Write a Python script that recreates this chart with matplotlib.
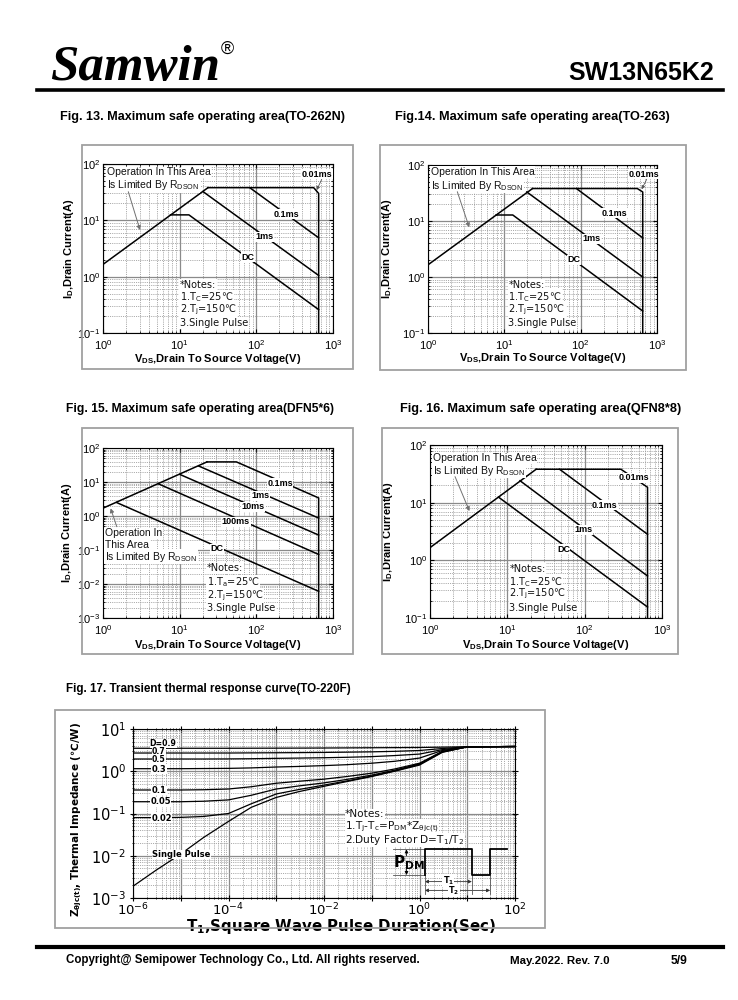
import numpy as np
import matplotlib
matplotlib.use('Agg')
import matplotlib.pyplot as plt
from matplotlib.patches import Rectangle
from matplotlib.lines import Line2D
from matplotlib.ticker import LogLocator, FixedLocator, FuncFormatter, NullFormatter
from matplotlib import font_manager as fm

# ======================= DATA =======================
soa_xlim = [1.0, 1000.0]
soa_xticks = [1.0, 10.0, 100.0, 1000.0]

# Fig 13 (TO-262N)
f13_rds_v = [1.0, 23.4]
f13_rds_i = [1.65, 38.0]
f13_p001_v = [23.4, 560.0, 650.0, 650.0]
f13_p001_i = [38.0, 38.0, 30.0, 0.1]
f13_p01_v = [82.0, 650.0]
f13_p01_i = [38.0, 4.9]
f13_p1_v = [20.2, 650.0]
f13_p1_i = [32.3, 1.05]
f13_dc_v = [7.6, 13.2, 650.0]
f13_dc_i = [12.5, 12.5, 0.26]

# Fig 14 (TO-263)
f14_rds_v = [1.0, 23.4]
f14_rds_i = [1.65, 38.0]
f14_p001_v = [23.4, 552.0, 650.0, 650.0]
f14_p001_i = [38.0, 38.0, 33.0, 0.1]
f14_p01_v = [88.0, 650.0]
f14_p01_i = [38.0, 5.0]
f14_p1_v = [19.7, 650.0]
f14_p1_i = [33.0, 1.0]
f14_dc_v = [7.8, 12.9, 650.0]
f14_dc_i = [12.8, 12.8, 0.247]

# Fig 15 (DFN5*6)
f15_rds_v = [1.0, 22.7]
f15_rds_i = [1.7, 39.0]
f15_p01_v = [22.7, 55.0, 650.0, 650.0]
f15_p01_i = [39.0, 39.0, 3.4, 0.001]
f15_p1_v = [17.7, 650.0]
f15_p1_i = [29.5, 0.87]
f15_p10_v = [10.0, 650.0]
f15_p10_i = [16.8, 0.275]
f15_p100_v = [5.3, 650.0]
f15_p100_i = [8.8, 0.074]
f15_dc_v = [1.5, 650.0]
f15_dc_i = [2.5, 0.0061]

# Fig 16 (QFN8*8)
f16_rds_v = [1.0, 23.6]
f16_rds_i = [1.66, 38.0]
f16_p001_v = [23.6, 294.0, 650.0, 650.0]
f16_p001_i = [38.0, 38.0, 18.5, 0.1]
f16_p01_v = [47.3, 650.0]
f16_p01_i = [38.0, 2.83]
f16_p1_v = [14.6, 650.0]
f16_p1_i = [24.0, 0.535]
f16_dc_v = [7.67, 650.0]
f16_dc_i = [12.5, 0.155]

# Fig 17 transient thermal impedance
zt_t = [1e-6, 3e-6, 1e-5, 3e-5, 1e-4, 3e-4, 1e-3, 3e-3, 1e-2, 3e-2, 1e-1, 3e-1, 1.0, 3.0, 10.0, 100.0]
z_d09 = [3.5, 3.5, 3.5, 3.5, 3.5, 3.51, 3.52, 3.53, 3.55, 3.57, 3.6, 3.62, 3.65, 3.72, 3.8, 3.85]
z_d07 = [2.7, 2.7, 2.7, 2.7, 2.7, 2.72, 2.74, 2.76, 2.79, 2.83, 2.88, 2.96, 3.1, 3.45, 3.78, 3.85]
z_d05 = [1.95, 1.95, 1.95, 1.95, 1.96, 1.98, 2.02, 2.05, 2.09, 2.14, 2.22, 2.35, 2.55, 3.25, 3.78, 3.85]
z_d03 = [1.15, 1.15, 1.15, 1.16, 1.17, 1.2, 1.26, 1.3, 1.36, 1.43, 1.55, 1.72, 2.05, 3.1, 3.78, 3.85]
z_d01 = [0.36, 0.36, 0.36, 0.365, 0.38, 0.43, 0.52, 0.58, 0.65, 0.75, 0.9, 1.13, 1.55, 2.95, 3.78, 3.85]
z_d005 = [0.19, 0.19, 0.19, 0.195, 0.21, 0.27, 0.38, 0.45, 0.53, 0.64, 0.81, 1.06, 1.5, 2.9, 3.78, 3.85]
z_d002 = [0.08, 0.08, 0.081, 0.085, 0.1, 0.17, 0.29, 0.37, 0.47, 0.59, 0.77, 1.02, 1.45, 2.85, 3.78, 3.85]
z_single = [0.0019, 0.0045, 0.011, 0.027, 0.065, 0.14, 0.24, 0.33, 0.44, 0.57, 0.75, 1.0, 1.4, 2.8, 3.78, 3.85]
z_labels = ['D=0.9', '0.7', '0.5', '0.3', '0.1', '0.05', '0.02', 'Single Pulse']

# ======================= LAYOUT =======================
W, H = 738, 1000
fig = plt.figure(figsize=(7.38, 10), dpi=100)
fig.patch.set_facecolor('white')
renderer = fig.canvas.get_renderer()

avail = {f.name for f in fm.fontManager.ttflist}
SANS = 'Liberation Sans'
NARROW = 'Liberation Sans Narrow' if 'Liberation Sans Narrow' in avail else 'Liberation Sans'
SERIF = 'Liberation Serif'
DJV = 'DejaVu Sans'
plt.rcParams['font.family'] = SANS


def fx(x):
    return x / W


def fy(y):
    return 1 - y / H


def rect(x0, y0, x1, y1):
    return [x0 / W, 1 - y1 / H, (x1 - x0) / W, (y1 - y0) / H]


def fit(t, size_px, vertical=False):
    bb = t.get_window_extent(renderer)
    cur = bb.height if vertical else bb.width
    t.set_fontsize(t.get_fontsize() * size_px / cur)


def frame(x0, y0, x1, y1):
    fig.add_artist(Rectangle((fx(x0), fy(y1)), (x1 - x0) / W, (y1 - y0) / H,
                             transform=fig.transFigure, fill=False,
                             ec='#a0a0a0', lw=1.3))


# ---- header ----
t = fig.text(fx(50), fy(80), 'Samwin', family=SERIF, weight='bold', style='italic',
             fontsize=38, va='baseline', ha='left')
fit(t, 170)
fig.text(fx(221), fy(54), '®', family=SANS, fontsize=13, va='baseline', ha='left')
t = fig.text(fx(714), fy(80), 'SW13N65K2', family=SANS, weight='bold', fontsize=16,
             va='baseline', ha='right')
fit(t, 146)
fig.add_artist(Line2D([fx(37), fx(723)], [fy(90), fy(90)], lw=2.6, color='black',
                      transform=fig.transFigure))

# ---- titles ----
titles = [
    ('Fig. 13. Maximum safe operating area(TO-262N)', 60, 117, 285),
    ('Fig.14. Maximum safe operating area(TO-263)', 395, 117, 275),
    ('Fig. 15. Maximum safe operating area(DFN5*6)', 66, 409, 269),
    ('Fig. 16. Maximum safe operating area(QFN8*8)', 400, 409, 283),
    ('Fig. 17. Transient thermal response curve(TO-220F)', 66, 689, 282),
]
for s, x, y, w in titles:
    t = fig.text(fx(x), fy(y), s, family=NARROW, weight='bold', fontsize=9,
                 va='center', ha='left')
    fit(t, w)

# ---- frames ----
frame(82, 145, 353, 369)
frame(380, 145, 686, 370)
frame(82, 428, 353, 654)
frame(382, 428, 678, 654)
frame(55, 710, 545, 928)


def setup_log(ax):
    ax.set_xscale('log')
    ax.set_yscale('log')
    for sp in ax.spines.values():
        sp.set_color('black')
        sp.set_linewidth(0.8)
    ax.set_axisbelow(True)


def soa(px, ymin, curves, labels, op_lines, arrow, notes, notes_x, notes_y,
        ylab_x, xlab_y, small_arrow=None):
    ax = fig.add_axes(rect(*px))
    setup_log(ax)
    ax.set_xlim(soa_xlim)
    ax.set_ylim(ymin, 100)
    ax.xaxis.set_major_locator(FixedLocator(soa_xticks))
    ax.yaxis.set_major_locator(LogLocator(10, numticks=12))
    ax.xaxis.set_minor_locator(LogLocator(10, subs=np.arange(2, 10), numticks=12))
    ax.yaxis.set_minor_locator(LogLocator(10, subs=np.arange(2, 10), numticks=12))
    ax.xaxis.set_minor_formatter(NullFormatter())
    ax.yaxis.set_minor_formatter(NullFormatter())
    ax.grid(True, which='major', color='#8a8a8a', lw=0.9, ls='-')
    ax.grid(True, which='minor', color='#9c9c9c', lw=0.6, ls=(0, (1.3, 1.3)))
    ax.tick_params(which='both', direction='in', top=True, right=True,
                   labelsize=8, pad=2, colors='black')
    ax.tick_params(axis='x', pad=3.5)
    ax.tick_params(which='major', length=3)
    ax.tick_params(which='minor', length=1.5)
    for v, i in curves:
        ax.plot(v, i, color='black', lw=1.1, zorder=3)
    for s, xf, yf in labels:
        ax.text(xf, yf, s, transform=ax.transAxes, ha='center', va='center',
                fontsize=6.5, weight='bold', zorder=6,
                bbox=dict(fc='white', ec='none', pad=0.4))
    for s, xf, yf in op_lines:
        ax.text(xf, yf, s, transform=ax.transAxes, ha='left', va='center',
                fontsize=7.5, zorder=6, color='#111111',
                bbox=dict(fc='white', ec='none', pad=0.5))
    (sx, sy), (ex, ey) = arrow
    ax.annotate('', xy=(ex, ey), xytext=(sx, sy), xycoords='axes fraction',
                arrowprops=dict(arrowstyle='-|>', color='#707070', lw=0.7,
                                mutation_scale=6, shrinkA=0, shrinkB=0), zorder=6)
    if small_arrow is not None:
        (sx, sy), (ex, ey) = small_arrow
        ax.annotate('', xy=(ex, ey), xytext=(sx, sy), xycoords='axes fraction',
                    arrowprops=dict(arrowstyle='-|>', color='#555555', lw=0.6,
                                    mutation_scale=5, shrinkA=0, shrinkB=0), zorder=6)
    for s, yf in zip(notes, notes_y):
        ax.text(notes_x, yf, s, transform=ax.transAxes, ha='left', va='center',
                fontsize=7, family=DJV, zorder=6, color='#111111',
                bbox=dict(fc='white', ec='none', pad=0.5))
    ax.set_ylabel(r'I$_\mathregular{D}$,Drain Current(A)', fontsize=8, weight='bold')
    ax.yaxis.set_label_coords(ylab_x, 0.5)
    ax.set_xlabel(r'V$_\mathregular{DS}$,Drain To Source Voltage(V)', fontsize=8,
                  weight='bold')
    ax.xaxis.set_label_coords(0.5, xlab_y)
    return ax


op2 = ['Operation In This Area', r'Is Limited By R$_\mathregular{DSON}$']
notes_c = ['*Notes:', r'1.T$_\mathregular{C}$=25℃', r'2.T$_\mathregular{j}$=150℃', '3.Single Pulse']

# Fig 13
soa((103, 164, 333, 333), 0.1,
    [(f13_rds_v, f13_rds_i), (f13_p001_v, f13_p001_i), (f13_p01_v, f13_p01_i),
     (f13_p1_v, f13_p1_i), (f13_dc_v, f13_dc_i)],
    [('0.01ms', 0.930, 0.939), ('0.1ms', 0.799, 0.704), ('1ms', 0.700, 0.570),
     ('DC', 0.632, 0.448)],
    [(op2[0], 0.017, 0.951), (op2[1], 0.017, 0.876)],
    ((0.110, 0.836), (0.161, 0.609)),
    notes_c, 0.335, [0.284, 0.210, 0.136, 0.059], -0.118, -0.115,
    small_arrow=((0.951, 0.909), (0.929, 0.846)))

# Fig 14
soa((428, 165, 657, 333), 0.1,
    [(f14_rds_v, f14_rds_i), (f14_p001_v, f14_p001_i), (f14_p01_v, f14_p01_i),
     (f14_p1_v, f14_p1_i), (f14_dc_v, f14_dc_i)],
    [('0.01ms', 0.943, 0.945), ('0.1ms', 0.814, 0.713), ('1ms', 0.715, 0.560),
     ('DC', 0.638, 0.435)],
    [(op2[0], 0.013, 0.957), (op2[1], 0.013, 0.877)],
    ((0.128, 0.841), (0.180, 0.629)),
    notes_c, 0.351, [0.286, 0.216, 0.137, 0.058], -0.150, -0.107,
    small_arrow=((0.955, 0.915), (0.933, 0.855)))

# Fig 15
soa((103, 448, 333, 618), 0.001,
    [(f15_rds_v, f15_rds_i), (f15_p01_v, f15_p01_i), (f15_p1_v, f15_p1_i),
     (f15_p10_v, f15_p10_i), (f15_p100_v, f15_p100_i), (f15_dc_v, f15_dc_i)],
    [('0.1ms', 0.770, 0.792), ('1ms', 0.686, 0.720), ('10ms', 0.651, 0.655),
     ('100ms', 0.578, 0.567), ('DC', 0.494, 0.406)],
    [('Operation In', 0.009, 0.498), ('This Area', 0.009, 0.429),
     (op2[1], 0.009, 0.361)],
    ((0.060, 0.537), (0.033, 0.645)),
    ['*Notes:', r'1.T$_\mathregular{a}$=25℃', r'2.T$_\mathregular{j}$=150℃', '3.Single Pulse'],
    0.451, [0.292, 0.210, 0.131, 0.057], -0.125, -0.118)

# Fig 16
soa((430, 445, 662, 618), 0.1,
    [(f16_rds_v, f16_rds_i), (f16_p001_v, f16_p001_i), (f16_p01_v, f16_p01_i),
     (f16_p1_v, f16_p1_i), (f16_dc_v, f16_dc_i)],
    [('0.01ms', 0.879, 0.811), ('0.1ms', 0.754, 0.653), ('1ms', 0.661, 0.509),
     ('DC', 0.575, 0.397)],
    [(op2[0], 0.011, 0.923), (op2[1], 0.011, 0.852)],
    ((0.108, 0.817), (0.170, 0.618)),
    notes_c, 0.342, [0.283, 0.210, 0.137, 0.060], -0.150, -0.116)

# Fig 17
ax = fig.add_axes(rect(133, 729, 515, 898))
setup_log(ax)
ax.set_xlim(1e-6, 1e2)
ax.set_ylim(1e-3, 1e1)
ax.xaxis.set_major_locator(FixedLocator(10.0 ** np.arange(-6, 3)))
ax.yaxis.set_major_locator(FixedLocator(10.0 ** np.arange(-3, 2)))
ax.xaxis.set_minor_locator(LogLocator(10, subs=np.arange(2, 10), numticks=20))
ax.yaxis.set_minor_locator(LogLocator(10, subs=np.arange(2, 10), numticks=20))
ax.xaxis.set_minor_formatter(NullFormatter())
ax.yaxis.set_minor_formatter(NullFormatter())


def even_fmt(v, p):
    e = int(round(np.log10(v)))
    return r'$\mathregular{10^{%d}}$' % e if e % 2 == 0 else ''


def all_fmt(v, p):
    return r'$\mathregular{10^{%d}}$' % int(round(np.log10(v)))


ax.xaxis.set_major_formatter(FuncFormatter(even_fmt))
ax.yaxis.set_major_formatter(FuncFormatter(all_fmt))
ax.grid(True, which='major', color='#8a8a8a', lw=0.9, ls='-')
ax.grid(True, which='minor', color='#9c9c9c', lw=0.6, ls=(0, (1.3, 1.3)))
ax.tick_params(which='both', direction='inout', labelfontfamily=DJV, top=True, right=True)
ax.tick_params(axis='y', labelsize=10.5, pad=3)
ax.tick_params(axis='x', labelsize=9.5, pad=1)
ax.tick_params(which='major', length=4)
ax.tick_params(which='minor', length=2)

zcurves = [z_d09, z_d07, z_d05, z_d03, z_d01, z_d005, z_d002, z_single]
for zc in zcurves:
    ax.plot(zt_t, zc, color='black', lw=0.9, zorder=3)
zlab_pos = [(0.079, 0.913), (0.068, 0.865), (0.068, 0.818), (0.068, 0.763),
            (0.068, 0.638), (0.073, 0.569), (0.075, 0.473), (0.127, 0.259)]
zlab_size = [5.6, 5.6, 5.6, 6.0, 6.0, 6.0, 6.0, 6.0]
for s, (xf, yf), fs in zip(z_labels, zlab_pos, zlab_size):
    ax.text(xf, yf, s, transform=ax.transAxes, ha='center', va='center',
            fontsize=fs, weight='bold', family=DJV, zorder=6,
            bbox=dict(fc='white', ec='none', pad=0.1))

notes17 = ['*Notes:', r'1.T$_\mathregular{j}$-T$_\mathregular{c}$=P$_\mathregular{DM}$*Z$_\mathregular{θjc(t)}$',
           r'2.Duty Factor D=T$_\mathregular{1}$/T$_\mathregular{2}$']
for s, yf in zip(notes17, [0.496, 0.420, 0.344]):
    ax.text(0.555, yf, s, transform=ax.transAxes, ha='left', va='center',
            fontsize=7.6, family=DJV, zorder=6, color='#111111',
            bbox=dict(fc='white', ec='none', pad=0.1))

# pulse schematic (axes fraction)
tr = ax.transAxes
ax.plot([0.764, 0.764, 0.887, 0.887, 0.935, 0.935, 0.980],
        [0.136, 0.288, 0.288, 0.136, 0.136, 0.288, 0.288],
        transform=tr, color='black', lw=1.3, zorder=7, clip_on=False)
ax.plot([0.681, 0.764], [0.288, 0.288], transform=tr, color='#555555', lw=0.6, zorder=5)
ax.plot([0.681, 0.764], [0.136, 0.136], transform=tr, color='#555555', lw=0.6, zorder=5)
for xx in (0.764, 0.887, 0.935):
    ax.plot([xx, xx], [0.136, 0.025], transform=tr, color='#555555', lw=0.6, zorder=5)
ax.annotate('', xy=(0.716, 0.288), xytext=(0.716, 0.25), xycoords='axes fraction',
            arrowprops=dict(arrowstyle='-|>', color='black', lw=0.6, mutation_scale=5,
                            shrinkA=0, shrinkB=0))
ax.annotate('', xy=(0.716, 0.136), xytext=(0.716, 0.17), xycoords='axes fraction',
            arrowprops=dict(arrowstyle='-|>', color='black', lw=0.6, mutation_scale=5,
                            shrinkA=0, shrinkB=0))
ax.text(0.722, 0.207, r'P$_\mathregular{DM}$', transform=tr, ha='center', va='center',
        fontsize=11, weight='bold', family=DJV, zorder=6)
ax.annotate('', xy=(0.764, 0.097), xytext=(0.887, 0.097), xycoords='axes fraction',
            arrowprops=dict(arrowstyle='<|-|>', color='#333333', lw=0.6, mutation_scale=5,
                            shrinkA=0, shrinkB=0))
ax.text(0.825, 0.102, r'T$_\mathregular{1}$', transform=tr, ha='center', va='center',
        fontsize=5.8, weight='bold', family=DJV, zorder=6,
        bbox=dict(fc='white', ec='none', pad=0.1))
ax.annotate('', xy=(0.764, 0.045), xytext=(0.935, 0.045), xycoords='axes fraction',
            arrowprops=dict(arrowstyle='<|-|>', color='#333333', lw=0.6, mutation_scale=5,
                            shrinkA=0, shrinkB=0))
ax.text(0.840, 0.045, r'T$_\mathregular{2}$', transform=tr, ha='center', va='center',
        fontsize=5.8, weight='bold', family=DJV, zorder=6,
        bbox=dict(fc='white', ec='none', pad=0.1))

yl = ax.set_ylabel(r'Z$_{\mathregular{θjc(t)}}$, Thermal Impedance (℃/W)', fontsize=11,
                   weight='bold', family=DJV)
ax.yaxis.set_label_coords(-0.128, 0.467)
xl = ax.set_xlabel(r'T$_\mathregular{1}$,Square Wave Pulse Duration(Sec)', fontsize=10,
                   weight='bold', family=DJV)
ax.xaxis.set_label_coords(0.546, -0.112)
fit(yl, 195, vertical=True)
fit(xl, 310)

# ---- footer ----
fig.add_artist(Line2D([fx(37), fx(723)], [fy(947), fy(947)], lw=3.0, color='black',
                      transform=fig.transFigure))
t = fig.text(fx(66), fy(960), 'Copyright@ Semipower Technology Co., Ltd. All rights reserved.',
             family=NARROW, weight='bold', fontsize=9, va='center', ha='left')
fit(t, 354)
t = fig.text(fx(510), fy(961), 'May.2022. Rev. 7.0', family=NARROW, weight='bold',
             fontsize=8, va='center', ha='left')
fit(t, 100)
t = fig.text(fx(688), fy(961), '5/9', family=NARROW, weight='bold', fontsize=8,
             va='center', ha='right')
fit(t, 17)

fig.savefig('out.png', dpi=100, facecolor='white')
